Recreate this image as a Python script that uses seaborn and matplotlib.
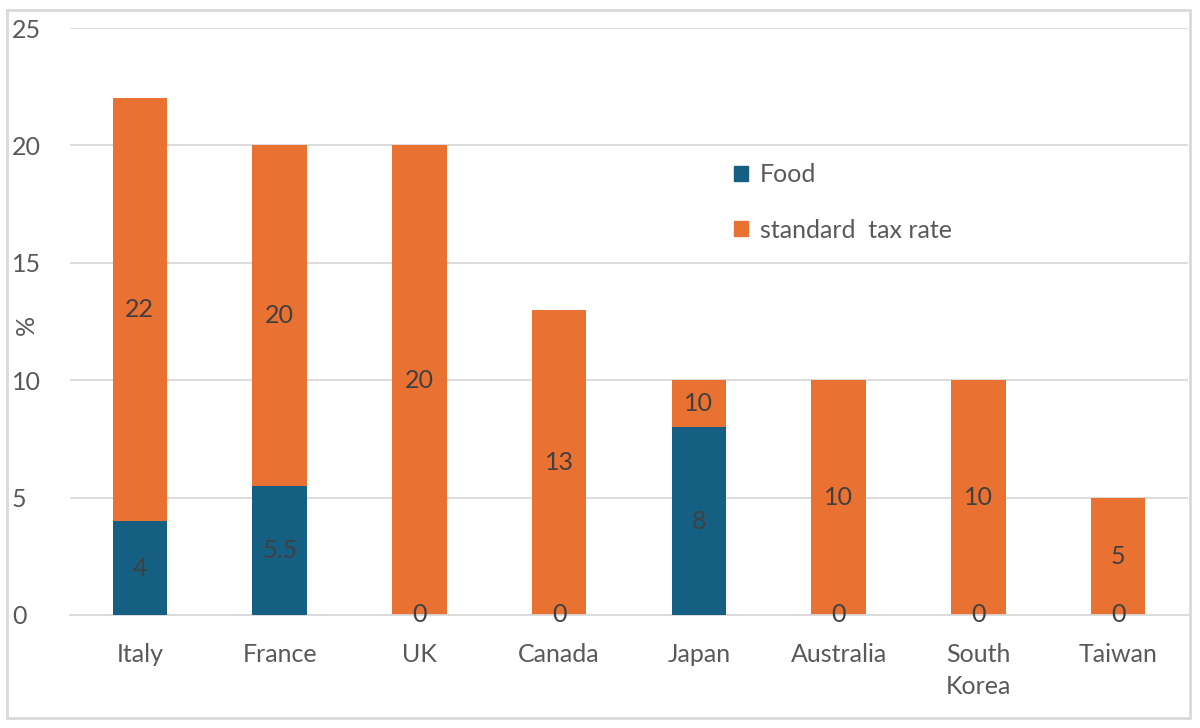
import matplotlib
matplotlib.use("Agg")
import matplotlib.pyplot as plt
from matplotlib.patches import Rectangle, Patch
import seaborn as sns
import pandas as pd

countries = ["Italy", "France", "UK", "Canada", "Japan", "Australia", "South\nKorea", "Taiwan"]
food = [4, 5.5, 0, 0, 8, 0, 0, 0]
standard = [22, 20, 20, 13, 10, 10, 10, 5]
food_labels = ["4", "5.5", "0", "0", "8", "0", "0", "0"]
standard_labels = ["22", "20", "20", "13", "10", "10", "10", "5"]
yticks = [0, 5, 10, 15, 20, 25]

BLUE = "#156082"
ORANGE = "#E97132"
TXT = "#595959"
LBL = "#404040"
FS = 18

sns.set_theme(style="white")
plt.rcParams["font.family"] = ["Lato", "DejaVu Sans"]

df = pd.DataFrame({"country": countries, "food": food, "standard": standard})

fig = plt.figure(figsize=(12, 7.28), dpi=100)
ax = fig.add_axes([70 / 1200, 1 - 615 / 728, (1188 - 70) / 1200, (615 - 28) / 728])

sns.barplot(data=df, x="country", y="standard", color=ORANGE, saturation=1,
            width=0.39, ax=ax, zorder=2, linewidth=0)
sns.barplot(data=df, x="country", y="food", color=BLUE, saturation=1,
            width=0.39, ax=ax, zorder=3, linewidth=0)

ax.set_ylim(0, 25)
ax.set_xlim(-0.5, len(countries) - 0.5)
ax.set_yticks(yticks)
ax.set_yticklabels([str(t) for t in yticks])
ax.grid(axis="y", color="#D9D9D9", linewidth=1.3, zorder=0)
ax.set_axisbelow(True)
for s in ["top", "right", "left"]:
    ax.spines[s].set_visible(False)
ax.spines["bottom"].set_color("#D9D9D9")
ax.spines["bottom"].set_linewidth(1.3)
ax.tick_params(axis="both", length=0, labelsize=FS, labelcolor=TXT)
ax.tick_params(axis="x", pad=20)
ax.tick_params(axis="y", pad=0)
for lab in ax.get_xticklabels():
    lab.set_linespacing(1.5)
for lab in ax.get_yticklabels():
    lab.set_horizontalalignment("left")
    lab.set_x(-58 / 1118)
ax.set_xlabel("")
ax.set_ylabel("%", fontsize=FS, color=TXT)
ax.yaxis.set_label_coords(-32 / 1118, (615 - 325) / 587)

# data labels
for i in range(len(countries)):
    ax.text(i, food[i] / 2, food_labels[i], ha="center", va="center",
            fontsize=FS, color=LBL, zorder=5)
    ax.text(i, (food[i] + standard[i]) / 2, standard_labels[i], ha="center",
            va="center", fontsize=FS, color=LBL, zorder=5)

handles = [Patch(facecolor=BLUE, edgecolor=BLUE), Patch(facecolor=ORANGE, edgecolor=ORANGE)]
leg = ax.legend(handles, ["Food", "standard  tax rate"], loc="upper left",
                bbox_to_anchor=((734 - 70) / 1118, (615 - 163) / 587),
                frameon=False, fontsize=FS, labelspacing=1.3,
                handlelength=0.55, handleheight=0.55, handletextpad=0.5,
                borderpad=0, borderaxespad=0)
for t in leg.get_texts():
    t.set_color(TXT)

fig.patches.append(Rectangle((7 / 1200, 1 - 718 / 728), (1190 - 7) / 1200, (718 - 10) / 728,
                             transform=fig.transFigure, fill=False,
                             edgecolor="#D9D9D9", linewidth=2))

fig.savefig("out.png", dpi=100)
